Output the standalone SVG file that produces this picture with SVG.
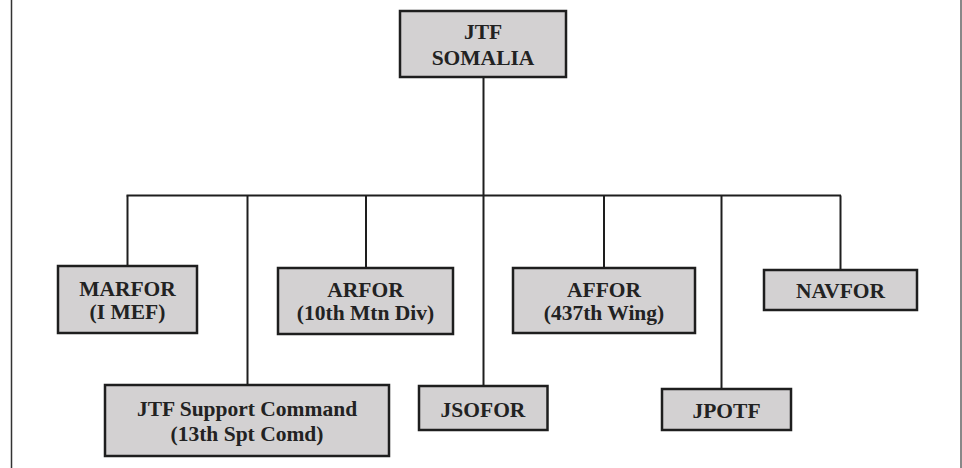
<svg xmlns="http://www.w3.org/2000/svg" width="962" height="468" viewBox="0 0 962 468">
<style>
.box{fill:#d3d1d2;stroke:#1e1e1e;stroke-width:2.5}
.t{font-family:"Liberation Serif","Times New Roman",serif;font-weight:bold;font-size:21.5px;fill:#222;text-anchor:middle}
.c{stroke:#1e1e1e;stroke-width:2;fill:none}
</style>
<rect width="962" height="468" fill="#fff"/>
<line x1="11.5" y1="0" x2="11.5" y2="468" stroke="#333" stroke-width="1.5"/>
<line x1="961" y1="0" x2="961" y2="468" stroke="#888" stroke-width="2"/>
<g id="connectors">
<line class="c" x1="483.5" y1="77" x2="483.5" y2="386"/>
<line class="c" x1="126.5" y1="195.5" x2="841" y2="195.5"/>
<line class="c" x1="127.5" y1="195.5" x2="127.5" y2="266"/>
<line class="c" x1="247.5" y1="195.5" x2="247.5" y2="385"/>
<line class="c" x1="366" y1="195.5" x2="366" y2="268"/>
<line class="c" x1="604" y1="195.5" x2="604" y2="268"/>
<line class="c" x1="721.5" y1="195.5" x2="721.5" y2="389"/>
<line class="c" x1="840.5" y1="195.5" x2="840.5" y2="270"/>
</g>
<g id="jtf-somalia">
<rect class="box" x="400" y="11" width="166" height="66"/>
<text class="t" x="483" y="38.5">JTF</text>
<text class="t" x="483" y="65">SOMALIA</text>
</g>
<g id="marfor">
<rect class="box" x="58" y="266" width="139" height="67"/>
<text class="t" x="127.5" y="296">MARFOR</text>
<text class="t" x="127.5" y="319">(I MEF)</text>
</g>
<g id="arfor">
<rect class="box" x="278" y="268" width="175" height="66"/>
<text class="t" x="365.5" y="297">ARFOR</text>
<text class="t" x="365.5" y="320">(10th Mtn Div)</text>
</g>
<g id="affor">
<rect class="box" x="513" y="268" width="182" height="65"/>
<text class="t" x="604" y="297">AFFOR</text>
<text class="t" x="604" y="320">(437th Wing)</text>
</g>
<g id="navfor">
<rect class="box" x="764" y="270" width="153" height="40"/>
<text class="t" x="840.5" y="298">NAVFOR</text>
</g>
<g id="jtf-support">
<rect class="box" x="105" y="385" width="284" height="71"/>
<text class="t" x="247" y="416">JTF Support Command</text>
<text class="t" x="247" y="441">(13th Spt Comd)</text>
</g>
<g id="jsofor">
<rect class="box" x="419" y="386" width="128.5" height="44"/>
<text class="t" x="483" y="417">JSOFOR</text>
</g>
<g id="jpotf">
<rect class="box" x="662" y="389" width="129" height="41"/>
<text class="t" x="726.5" y="418">JPOTF</text>
</g>
</svg>
